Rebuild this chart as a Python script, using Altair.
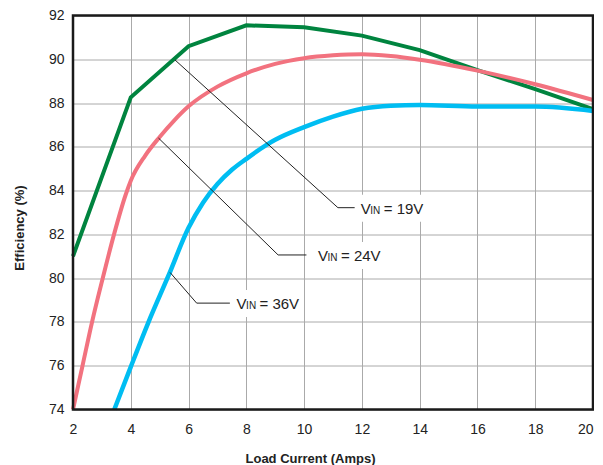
import altair as alt
import pandas as pd

# ---- data ----
x_ticks = [2, 4, 6, 8, 10, 12, 14, 16, 18, 20]
y_ticks = [74, 76, 78, 80, 82, 84, 86, 88, 90, 92]

v19_x = [2, 4, 6, 8, 10, 12, 14, 16, 18, 20]
v19_y = [81.0, 88.26, 90.6, 91.55, 91.46, 91.08, 90.42, 89.5, 88.64, 87.72]

v24_x = [2, 2.33, 2.66, 3.03, 3.42, 3.82, 4, 4.5, 5, 5.5, 6, 7, 8, 9, 10, 11, 12, 13, 14, 16, 18, 20]
v24_y = [74, 76, 78, 80, 82, 83.8, 84.45, 85.6, 86.45, 87.2, 87.85, 88.75, 89.36, 89.79, 90.05, 90.18,
         90.23, 90.15, 89.98, 89.48, 88.86, 88.14]

v36_x = [3.43, 4, 4.6, 5.3, 6, 6.5, 7, 7.5, 8, 8.7, 9, 10, 11, 12, 13, 14, 16, 18, 20]
v36_y = [74, 75.95, 77.95, 80.1, 82.3, 83.45, 84.3, 84.95, 85.45, 86.09, 86.32, 86.9, 87.38, 87.74,
         87.88, 87.91, 87.84, 87.84, 87.64]

series_names = ["19V", "24V", "36V"]
series_colors = ["#00843f", "#f2727f", "#00bdf2"]

# callouts: curve point -> elbow -> end of leader
callout_name = ["19V", "24V", "36V"]
callout_x0 = [5.53, 4.96, 5.36]
callout_y0 = [89.97, 86.4, 80.26]
callout_x1 = [11.17, 9.10, 6.28]
callout_y1 = [83.22, 81.06, 78.86]
callout_x2 = [11.75, 10.08, 7.43]
label_x = [11.96, 10.48, 7.66]
label_rest = ["= 19V", "= 24V", "= 36V"]

# ---- tables ----
rows = []
for name, xs_, ys_ in zip(series_names, [v19_x, v24_x, v36_x], [v19_y, v24_y, v36_y]):
    for i, (a, b) in enumerate(zip(xs_, ys_)):
        rows.append({"s": name, "x": a, "y": b, "o": i})
curves = pd.DataFrame(rows)

crow = []
for n, a0, b0, a1, b1, a2 in zip(callout_name, callout_x0, callout_y0, callout_x1, callout_y1, callout_x2):
    crow += [{"c": n, "x": a0, "y": b0, "o": 0},
             {"c": n, "x": a1, "y": b1, "o": 1},
             {"c": n, "x": a2, "y": b1, "o": 2}]
callouts = pd.DataFrame(crow)

labels = pd.DataFrame({"x": label_x, "y": callout_y1, "rest": label_rest})

FONT = "Liberation Sans, Arial, Helvetica, sans-serif"

xs = alt.Scale(domain=[2, 20], nice=False, zero=False)
ys = alt.Scale(domain=[74, 92], nice=False, zero=False)

xaxis = alt.Axis(values=x_ticks, title="Load Current (Amps)", grid=True, ticks=False, domain=False,
                 labelFont=FONT, labelFontSize=14, labelColor="#222", labelPadding=13,
                 labelFlush=False,
                 labelAlign={"condition": {"test": "datum.value == 20", "value": "right"},
                             "value": "center"},
                 labelBound=False,
                 titleFont=FONT, titleFontSize=13, titleFontWeight="bold",
                 titleColor="#222", titleX=237, titleY=48.5, titleBaseline="middle",
                 gridColor="#aaaaaa", gridWidth=1, format="d")
yaxis = alt.Axis(values=y_ticks, title="Efficiency (%)", grid=True, ticks=False, domain=False,
                 labelFont=FONT, labelFontSize=14, labelColor="#222", labelPadding=9,
                 labelFlush=False, titleFont=FONT, titleFontSize=13, titleFontWeight="bold",
                 titleColor="#222", titleX=-54, titleY=212, titleBaseline="middle",
                 titleAngle=270, gridColor="#aaaaaa", gridWidth=1, format="d")

base_curves = alt.Chart(curves)
lines = alt.layer(
    base_curves.transform_filter(alt.datum.s == "19V").mark_line(
        strokeWidth=4, color=series_colors[0], interpolate="linear", strokeJoin="miter"
    ).encode(x=alt.X("x:Q", scale=xs, axis=xaxis), y=alt.Y("y:Q", scale=ys, axis=yaxis), order="o:Q"),
    base_curves.transform_filter(alt.datum.s == "24V").mark_line(
        strokeWidth=4, color=series_colors[1], interpolate="monotone"
    ).encode(x=alt.X("x:Q", scale=xs), y=alt.Y("y:Q", scale=ys), order="o:Q"),
    base_curves.transform_filter(alt.datum.s == "36V").mark_line(
        strokeWidth=4.5, color=series_colors[2], interpolate="monotone"
    ).encode(x=alt.X("x:Q", scale=xs), y=alt.Y("y:Q", scale=ys), order="o:Q"),
)

bg = alt.Chart(labels).mark_rect(fill="white", xOffset=-8, x2Offset=64, yOffset=-13, y2Offset=14).encode(
    x=alt.X("x:Q", scale=xs), x2="x", y=alt.Y("y:Q", scale=ys), y2="y")

leaders = alt.Chart(callouts).mark_line(color="#222", strokeWidth=1).encode(
    x=alt.X("x:Q", scale=xs), y=alt.Y("y:Q", scale=ys), detail="c:N", order="o:Q")

tV = alt.Chart(labels).mark_text(text="V", font=FONT, fontSize=15, color="#222", align="left",
                                 baseline="alphabetic", dy=6).encode(
    x=alt.X("x:Q", scale=xs), y=alt.Y("y:Q", scale=ys))
tIN = alt.Chart(labels).mark_text(text="IN", font=FONT, fontSize=10, color="#222", align="left",
                                  baseline="alphabetic", dx=9.6, dy=6).encode(
    x=alt.X("x:Q", scale=xs), y=alt.Y("y:Q", scale=ys))
tRest = alt.Chart(labels).mark_text(font=FONT, fontSize=15, color="#222", align="left",
                                    baseline="alphabetic", dx=23, dy=6).encode(
    x=alt.X("x:Q", scale=xs), y=alt.Y("y:Q", scale=ys), text="rest:N")

# plot frame drawn along the scale domain ends
frame = alt.Chart(pd.DataFrame({"a": [0]})).mark_rect(
    fill="transparent", stroke="#1a1a1a", strokeWidth=2.5
).encode(
    x=alt.datum(x_ticks[0], scale=xs), x2=alt.datum(x_ticks[-1]),
    y=alt.datum(y_ticks[0], scale=ys), y2=alt.datum(y_ticks[-1]),
)

chart = alt.layer(lines, bg, leaders, tV, tIN, tRest, frame).properties(
    width=520, height=394,
    autosize=alt.AutoSizeParams(type="none"),
    padding={"left": 65, "top": 7.5, "right": 1, "bottom": 56},
).configure_view(strokeWidth=0).configure(background="white")

chart.save("out.html", embed_options={"renderer": "svg", "actions": False})
